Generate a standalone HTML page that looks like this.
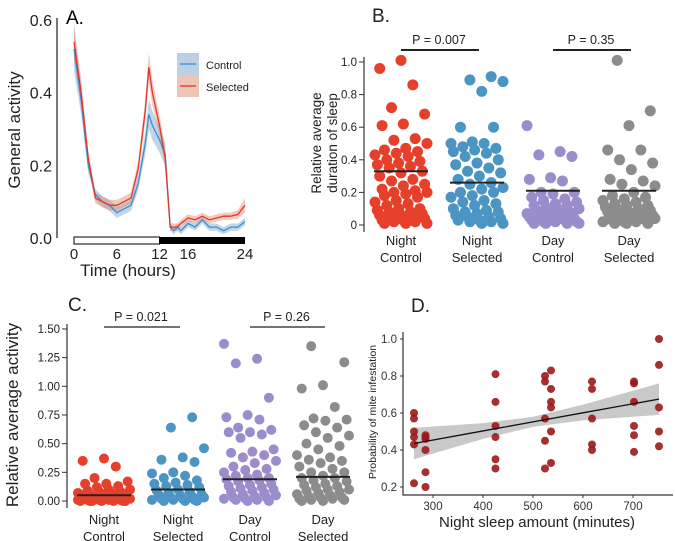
<!DOCTYPE html>
<html><head><meta charset="utf-8"><style>
html,body{margin:0;padding:0;background:#fff;}
svg{display:block;font-family:"Liberation Sans",sans-serif;}
</style></head><body>
<svg id="fig" width="675" height="541" viewBox="0 0 675 541">
<g id="pA"></g>
<g id="pB"></g>
<g id="pC"></g>
<g id="pD"></g>
</svg>
<script>
// Panel A data
const aTimes=[0,1,2,3,4,5,6,7,8,9,10,10.5,11,12,12.8,13.5,14,14.5,15,16,17,18,19,20,21,22,23,24];
const aControl=[0.52,0.38,0.2,0.12,0.1,0.09,0.07,0.08,0.09,0.15,0.26,0.34,0.31,0.27,0.23,0.03,0.02,0.03,0.02,0.04,0.03,0.05,0.03,0.03,0.02,0.03,0.03,0.045];
const aSelected=[0.54,0.4,0.22,0.11,0.1,0.09,0.09,0.1,0.11,0.19,0.35,0.47,0.4,0.31,0.22,0.03,0.03,0.03,0.04,0.055,0.05,0.06,0.05,0.055,0.06,0.06,0.065,0.09];
const aCtrlErr=[0.06,0.04,0.02,0.015,0.015,0.015,0.015,0.015,0.015,0.02,0.03,0.04,0.04,0.035,0.03,0.01,0.01,0.01,0.01,0.01,0.01,0.01,0.01,0.01,0.01,0.01,0.01,0.01];
const aSelErr=[0.05,0.04,0.02,0.015,0.015,0.015,0.015,0.015,0.015,0.02,0.03,0.04,0.035,0.03,0.03,0.01,0.01,0.01,0.01,0.01,0.01,0.01,0.01,0.01,0.01,0.01,0.012,0.02];
const aYTicks=[0,0.2,0.4,0.6];
const aXTicks=[0,6,12,16,24];
// Panel B data
const bCats=["Night|Control","Night|Selected","Day|Control","Day|Selected"];
const bNC=[1.01,0.96,0.86,0.72,0.68,0.62,0.61,0.53,0.52,0.5,0.47,0.46,0.45,0.44,0.43,0.42,0.4,0.39,0.38,0.37,0.36,0.35,0.33,0.32,0.3,0.28,0.27,0.25,0.24,0.22,0.21,0.2,0.2,0.19,0.18,0.17,0.15,0.14,0.13,0.12,0.1,0.1,0.09,0.08,0.08,0.07,0.06,0.06,0.05,0.05,0.04,0.03,0.03,0.02,0.02,0.01,0.01,0.01];
const bNS=[0.91,0.89,0.88,0.82,0.6,0.6,0.51,0.5,0.5,0.48,0.47,0.46,0.45,0.44,0.42,0.4,0.38,0.37,0.35,0.33,0.32,0.3,0.28,0.26,0.25,0.23,0.22,0.2,0.2,0.18,0.17,0.15,0.14,0.13,0.12,0.1,0.09,0.08,0.08,0.07,0.06,0.05,0.05,0.04,0.03,0.03,0.02,0.02,0.01,0.01];
const bDC=[0.61,0.45,0.43,0.42,0.29,0.28,0.27,0.2,0.2,0.19,0.17,0.16,0.15,0.14,0.13,0.12,0.12,0.11,0.1,0.1,0.09,0.08,0.08,0.07,0.07,0.06,0.06,0.05,0.05,0.05,0.04,0.04,0.03,0.03,0.03,0.02,0.02,0.02,0.01,0.01,0.01,0.01];
const bDS=[1.01,0.7,0.61,0.46,0.46,0.4,0.38,0.34,0.28,0.27,0.25,0.24,0.2,0.18,0.17,0.16,0.15,0.14,0.13,0.12,0.12,0.11,0.1,0.1,0.09,0.08,0.08,0.07,0.07,0.06,0.06,0.05,0.05,0.04,0.04,0.04,0.03,0.03,0.02,0.02,0.02,0.01,0.01,0.01];
const bMeans=[0.33,0.26,0.21,0.21];
const bYTicks=[0,0.2,0.4,0.6,0.8,1.0];
const bYLabels=["0","0.2","0.4","0.6","0.8","1.0"];
const bPvals=["P = 0.007","P = 0.35"];
// Panel C data
const cNC=[0.37,0.35,0.3,0.2,0.17,0.15,0.15,0.13,0.12,0.1,0.1,0.09,0.08,0.08,0.07,0.07,0.06,0.06,0.05,0.05,0.05,0.04,0.04,0.04,0.03,0.03,0.03,0.03,0.02,0.02,0.02,0.02,0.02,0.01,0.01,0.01,0.01,0.01,0.01,0,0,0,0,0,0,0];
const cNS=[0.73,0.64,0.46,0.38,0.36,0.34,0.25,0.24,0.22,0.2,0.18,0.16,0.15,0.14,0.13,0.12,0.1,0.09,0.08,0.07,0.06,0.05,0.05,0.04,0.03,0.03,0.02,0.02,0.01,0.01,0.01,0,0,0];
const cDC=[1.37,1.24,1.2,0.9,0.75,0.73,0.71,0.64,0.62,0.6,0.6,0.58,0.55,0.45,0.43,0.42,0.4,0.38,0.35,0.33,0.3,0.28,0.27,0.25,0.23,0.22,0.2,0.2,0.19,0.18,0.17,0.15,0.14,0.13,0.12,0.11,0.1,0.09,0.08,0.07,0.06,0.05,0.04,0.03,0.03,0.02,0.02,0.01,0.01,0,0];
const cDS=[1.35,1.21,1.01,0.98,0.82,0.72,0.71,0.7,0.66,0.64,0.6,0.57,0.55,0.5,0.48,0.45,0.4,0.38,0.36,0.35,0.33,0.3,0.28,0.25,0.25,0.22,0.2,0.2,0.18,0.17,0.15,0.14,0.13,0.12,0.1,0.1,0.09,0.08,0.07,0.06,0.05,0.04,0.03,0.03,0.02,0.02,0.01,0.01,0,0];
const cMeans=[0.05,0.1,0.19,0.21];
const cYTicks=[0,0.25,0.5,0.75,1.0,1.25,1.5];
const cYLabels=["0.00","0.25","0.50","0.75","1.00","1.25","1.50"];
const cPvals=["P = 0.021","P = 0.26"];
// Panel D data
const dX=[262,262,262,262,262,262,285,285,285,285,285,285,425,425,425,425,425,425,524,524,524,524,524,536,536,536,536,536,536,618,618,618,618,618,702,702,702,702,702,702,752,752,752,752,752];
const dY=[0.6,0.57,0.5,0.47,0.43,0.22,0.48,0.47,0.46,0.4,0.28,0.2,0.81,0.66,0.53,0.47,0.35,0.3,0.8,0.77,0.57,0.45,0.3,0.83,0.73,0.66,0.63,0.5,0.33,0.77,0.73,0.57,0.43,0.4,0.77,0.76,0.66,0.53,0.48,0.39,1.0,0.86,0.63,0.5,0.42];
const dFitX=[262,400,500,600,752];
const dFitY=[0.435,0.503,0.552,0.601,0.675];
const dFitLo=[0.35,0.46,0.525,0.56,0.59];
const dFitHi=[0.52,0.545,0.58,0.645,0.76];
const dXTicks=[300,400,500,600,700];
const dYTicks=[0.2,0.4,0.6,0.8,1.0];

const NS="http://www.w3.org/2000/svg";
function mk(parent,tag,attrs,text){const e=document.createElementNS(NS,tag);for(const k in attrs)e.setAttribute(k,attrs[k]);if(text!==undefined)e.textContent=text;parent.appendChild(e);return e;}
function jit(i){return (((i*37+11)%23)/22-0.5);}

// ---------- Panel A ----------
const pA=document.getElementById('pA');
const ax=t=>74+t*(171/24), ay=v=>238-v*(218/0.6);
let e=mk(pA,'text',{x:66,y:24,'font-size':19},'A.');


e=mk(pA,'line',{x1:57,y1:18,x2:57,y2:238,stroke:'#777','stroke-width':2});


aYTicks.forEach(v=>{const t=mk(pA,'text',{x:52,y:ay(v)+6,'font-size':16,'text-anchor':'end',fill:'#222'},v.toFixed(1));

});
aXTicks.forEach(v=>{const t=mk(pA,'text',{x:ax(v),y:259,'font-size':15,'text-anchor':'middle',fill:'#222'},String(v));

});
e=mk(pA,'rect',{x:ax(0),y:237,width:ax(12)-ax(0),height:7,fill:'#fff',stroke:'#000','stroke-width':1});


e=mk(pA,'rect',{x:ax(12),y:237,width:ax(24)-ax(12),height:7,fill:'#000'});


e=mk(pA,'text',{x:128,y:276,'font-size':17,'text-anchor':'middle',fill:'#222'},'Time (hours)');


e=mk(pA,'text',{x:0,y:0,'font-size':17,'text-anchor':'middle',fill:'#222',transform:'translate(20,130) rotate(-90)'},'General activity');


function band(vals,errs,fill,name){let d='M'+aTimes.map((t,i)=>ax(t)+','+ay(vals[i]+errs[i])).join('L');
for(let i=aTimes.length-1;i>=0;i--)d+='L'+ax(aTimes[i])+','+ay(vals[i]-errs[i]);
const p=mk(pA,'path',{d:d+'Z',fill:fill});

}
function line(vals,col,name){const p=mk(pA,'path',{d:'M'+aTimes.map((t,i)=>ax(t)+','+ay(vals[i])).join('L'),fill:'none',stroke:col,'stroke-width':1.3});

}
band(aControl,aCtrlErr,'rgba(120,160,205,0.45)','control-band');
band(aSelected,aSelErr,'rgba(220,140,110,0.45)','selected-band');
line(aControl,'#3a8fd0','control-line');
line(aSelected,'#e8342a','selected-line');
e=mk(pA,'rect',{x:177,y:53,width:22,height:22,fill:'rgba(120,160,205,0.5)'});


e=mk(pA,'rect',{x:177,y:75,width:22,height:22,fill:'rgba(220,140,110,0.5)'});


mk(pA,'line',{x1:180,y1:64,x2:196,y2:64,stroke:'#3a8fd0','stroke-width':1.3});
mk(pA,'line',{x1:180,y1:86,x2:196,y2:86,stroke:'#e8342a','stroke-width':1.3});
e=mk(pA,'text',{x:206,y:69,'font-size':11,fill:'#222'},'Control');


e=mk(pA,'text',{x:206,y:91,'font-size':11,fill:'#222'},'Selected');



// ---------- Strip panels ----------
function strip(g,o){
  const y=v=>o.y0-v*o.scale;
  const cx=o.cx;
  e=mk(g,'text',{x:o.labX,y:o.labY,'font-size':19,fill:'#222'},o.label);
  
  
  e=mk(g,'line',{x1:o.axX,y1:y(o.ticks[o.ticks.length-1])-5,x2:o.axX,y2:o.y0+7,stroke:'#333','stroke-width':1.2});
  
  
  o.ticks.forEach((v,i)=>{mk(g,'line',{x1:o.axX-5,y1:y(v),x2:o.axX,y2:y(v),stroke:'#333'});
    const t=mk(g,'text',{x:o.axX-7,y:y(v)+4,'font-size':11.5,'text-anchor':'end',fill:'#222'},o.tickLabels[i]);
    
    });
  const cols=['#e6402b','#4b95c4','#9b8ccc','#8c8c8c'];
  o.series.forEach((s,k)=>{s.forEach((v,i)=>{const c=mk(g,'circle',{cx:cx[k]+jit(i+k*7)*o.jw,cy:y(v),r:o.r,fill:cols[k]});
      
      });
    const m=mk(g,'line',{x1:cx[k]-o.mw,y1:y(o.means[k]),x2:cx[k]+o.mw,y2:y(o.means[k]),stroke:'#222','stroke-width':2});
    
    
    const parts=bCats[k].split('|');
    const t1=mk(g,'text',{x:cx[k],y:o.catY,'font-size':13,'text-anchor':'middle',fill:'#222'},parts[0]);
    
    
    const t2=mk(g,'text',{x:cx[k],y:o.catY+17,'font-size':13,'text-anchor':'middle',fill:'#222'},parts[1]);
    
    });
  [[0,1],[2,3]].forEach((pr,j)=>{const l=mk(g,'line',{x1:cx[pr[0]],y1:o.pY,x2:cx[pr[1]]+2,y2:o.pY,stroke:'#222','stroke-width':o.pW});
    
    
    const t=mk(g,'text',{x:(cx[pr[0]]+cx[pr[1]])/2,y:o.pY-6,'font-size':12.5,'text-anchor':'middle',fill:'#222'},o.pvals[j]);
    
    });
}
const pB=document.getElementById('pB');
strip(pB,{name:'panel-b',label:'B.',labX:372,labY:22,axX:364,y0:225,scale:163,ticks:bYTicks,tickLabels:bYLabels,cx:[401,477,553,629],series:[bNC,bNS,bDC,bDS],means:bMeans,r:5.5,jw:52,mw:27,catY:245,pY:50,pW:2,pvals:bPvals});
e=mk(pB,'text',{x:0,y:0,'font-size':13.5,'text-anchor':'middle',fill:'#222',transform:'translate(321,143) rotate(-90)'},'Relative average');


e=mk(pB,'text',{x:0,y:0,'font-size':13.5,'text-anchor':'middle',fill:'#222',transform:'translate(337,143) rotate(-90)'},'duration of sleep');



const pC=document.getElementById('pC');
strip(pC,{name:'panel-c',label:'C.',labX:68,labY:311,axX:67,y0:501,scale:114.7,ticks:cYTicks,tickLabels:cYLabels,cx:[104,178,250,323],series:[cNC,cNS,cDC,cDS],means:cMeans,r:5,jw:52,mw:27,catY:524,pY:327,pW:1.2,pvals:cPvals});
e=mk(pC,'text',{x:0,y:0,'font-size':17,'text-anchor':'middle',fill:'#222',transform:'translate(18,415) rotate(-90)'},'Relative average activity');



// ---------- Panel D ----------
const pD=document.getElementById('pD');
const dx=v=>433+(v-300)*0.5, dy=v=>487-(v-0.2)*185;
e=mk(pD,'text',{x:411,y:312,'font-size':19,fill:'#222'},'D.');


let bd='M'+dFitX.map((x,i)=>dx(x)+','+dy(dFitHi[i])).join('L');
for(let i=dFitX.length-1;i>=0;i--)bd+='L'+dx(dFitX[i])+','+dy(dFitLo[i]);
e=mk(pD,'path',{d:bd+'Z',fill:'#c9c9c9'});


dX.forEach((x,i)=>{const c=mk(pD,'circle',{cx:dx(x),cy:dy(dY[i]),r:4,fill:'#9a1a1a','fill-opacity':0.9});

});
e=mk(pD,'path',{d:'M'+dFitX.map((x,i)=>dx(x)+','+dy(dFitY[i])).join('L'),fill:'none',stroke:'#111','stroke-width':1.3});


e=mk(pD,'path',{d:'M403,332L403,495L673,495',fill:'none',stroke:'#333','stroke-width':1.2});


dYTicks.forEach(v=>{mk(pD,'line',{x1:400,y1:dy(v),x2:403,y2:dy(v),stroke:'#333'});
const t=mk(pD,'text',{x:397,y:dy(v)+4,'font-size':11.5,'text-anchor':'end',fill:'#333'},v.toFixed(1));

});
dXTicks.forEach(v=>{mk(pD,'line',{x1:dx(v),y1:495,x2:dx(v),y2:498,stroke:'#333'});
const t=mk(pD,'text',{x:dx(v),y:510,'font-size':11.5,'text-anchor':'middle',fill:'#333'},String(v));

});
e=mk(pD,'text',{x:537,y:527,'font-size':15,'text-anchor':'middle',fill:'#222'},'Night sleep amount (minutes)');


e=mk(pD,'text',{x:0,y:0,'font-size':10.5,'text-anchor':'middle',fill:'#222',transform:'translate(376,412) rotate(-90)'},'Probability of mite infestation');


</script>
</body></html>
